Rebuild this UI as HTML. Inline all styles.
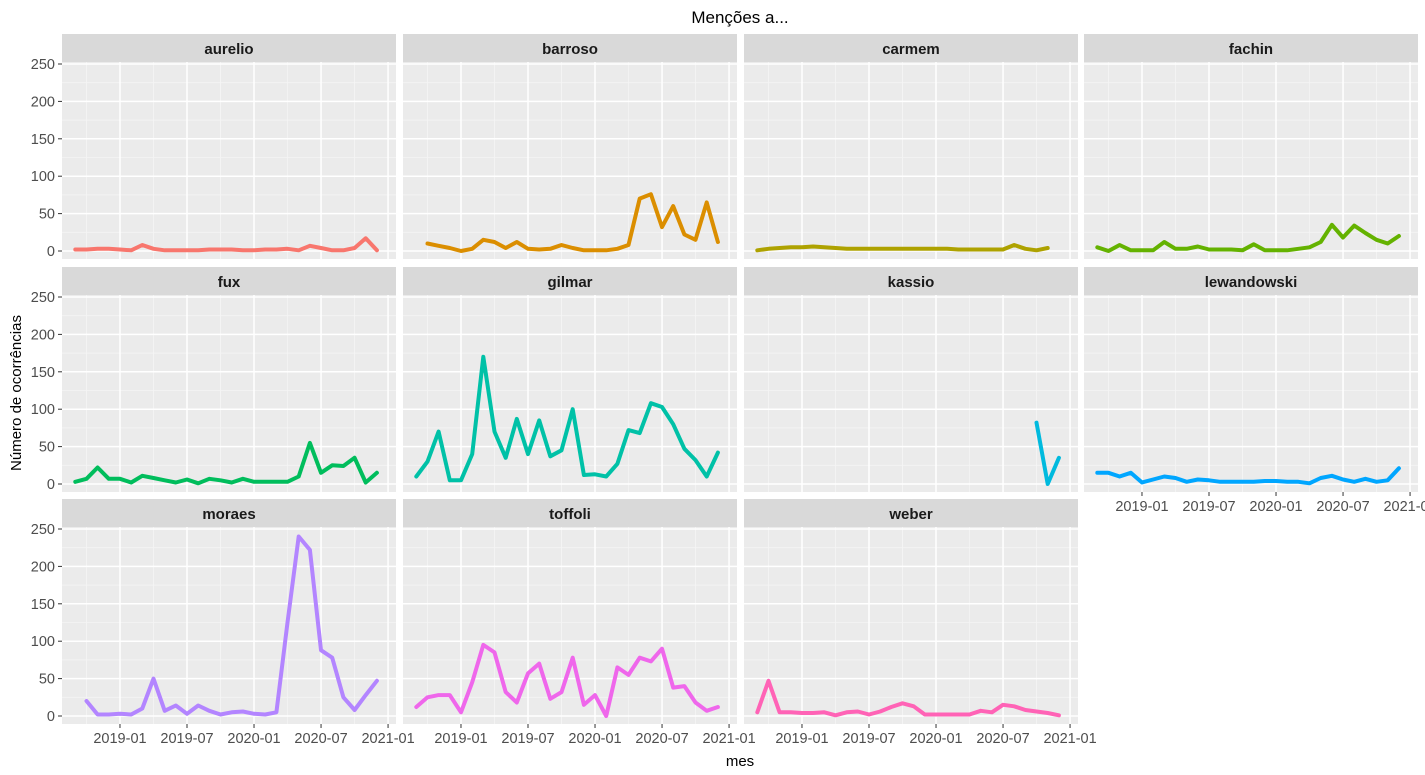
<!DOCTYPE html>
<html><head><meta charset="utf-8"><style>
html,body{margin:0;padding:0;background:#fff;}
svg{display:block;font-family:"Liberation Sans",sans-serif;}
</style></head><body>
<svg id="chart" width="1425" height="775" viewBox="0 0 1425 775"></svg>
<script>
const names = ["aurelio","barroso","carmem","fachin","fux","gilmar","kassio","lewandowski","moraes","toffoli","weber"];
const colors = ["#F8766D","#DB8E00","#AEA200","#64B200","#00BD5C","#00C1A7","#00BADE","#00A6FF","#B385FF","#EF67EB","#FF63B6"];
// month index 0 = 2018-09
const startIdx = [0,1,0,0,0,0,25,0,1,0,0];
const aurelio = [2,2,3,3,2,1,8,3,1,1,1,1,2,2,2,1,1,2,2,3,1,7,4,1,1,4,17,1];
const barroso = [10,7,4,0,3,15,12,4,12,3,2,3,8,4,1,1,1,3,8,70,76,32,60,22,15,65,12];
const carmem = [1,3,4,5,5,6,5,4,3,3,3,3,3,3,3,3,3,3,2,2,2,2,2,8,3,1,4];
const fachin = [5,0,8,1,1,1,12,3,3,6,2,2,2,1,9,1,1,1,3,5,12,35,18,34,24,15,10,20];
const fux = [3,7,22,7,7,2,11,8,5,2,6,1,7,5,2,7,3,3,3,3,10,55,15,25,24,35,2,15];
const gilmar = [10,30,70,5,5,40,170,70,35,87,40,85,37,45,100,12,13,10,27,72,68,108,103,80,47,32,10,42];
const kassio = [82,0,35];
const lewandowski = [15,15,10,15,2,6,10,8,3,6,5,3,3,3,3,4,4,3,3,1,8,11,6,3,7,3,5,21];
const moraes = [20,2,2,3,2,10,50,7,14,3,14,7,2,5,6,3,2,5,125,240,222,88,78,25,8,28,47];
const toffoli = [12,25,28,28,5,45,95,85,32,18,57,70,23,32,78,15,28,0,65,55,78,73,90,38,40,18,7,12];
const weber = [5,47,5,5,4,4,5,1,5,6,2,6,12,17,13,2,2,2,2,2,7,5,15,13,8,6,4,1];
const series = [aurelio,barroso,carmem,fachin,fux,gilmar,kassio,lewandowski,moraes,toffoli,weber];
const yTicks = [0,50,100,150,200,250];
const xTickIdx = [4,10,16,22,28];
const xTickLabels = ["2019-01","2019-07","2020-01","2020-07","2021-01"];

const NS="http://www.w3.org/2000/svg";
const svg=document.getElementById('chart');
function el(tag,attrs,parent){const e=document.createElementNS(NS,tag);for(const k in attrs)e.setAttribute(k,attrs[k]);(parent||svg).appendChild(e);return e;}
const colX=[62,403,744,1084], panelW=334;
const rowStrip=[34,267,499], rowTop=[62,295,527], panelH=197;
function xScale(i,c){return colX[c]+13.3+i*11.17;}
function yScale(v,r){return rowTop[r]+189-v*0.748;}

function txt(x,y,s,attrs){const t=el('text',Object.assign({x:x,y:y},attrs));t.textContent=s;return t;}

const title=txt(740,23,"Menções a...",{'text-anchor':'middle','font-size':'17','fill':'#000'});



names.forEach((nm,k)=>{
  const r=Math.floor(k/4), c=k%4;
  const g=el('g',{});
  
  
  const strip=el('rect',{x:colX[c],y:rowStrip[r],width:panelW,height:28,fill:'#d9d9d9'},g);
  
  
  const st=txt(colX[c]+panelW/2,rowStrip[r]+20,nm,{'text-anchor':'middle','font-size':'15','font-weight':'bold','fill':'#1a1a1a'});
  g.appendChild(st);
  el('rect',{x:colX[c],y:rowTop[r],width:panelW,height:panelH,fill:'#ebebeb'},g);
  // minor grid
  for(let v=25;v<=275;v+=50){const y=yScale(v,r);if(y>rowTop[r])el('line',{x1:colX[c],x2:colX[c]+panelW,y1:y,y2:y,stroke:'#f5f5f5','stroke-width':0.8},g);}
  for(let i=1;i<=31;i+=6){const x=xScale(i,c);if(x<colX[c]+panelW)el('line',{x1:x,x2:x,y1:rowTop[r],y2:rowTop[r]+panelH,stroke:'#f5f5f5','stroke-width':0.8},g);}
  yTicks.forEach(v=>{const y=yScale(v,r);el('line',{x1:colX[c],x2:colX[c]+panelW,y1:y,y2:y,stroke:'#fff','stroke-width':1.5},g);});
  xTickIdx.forEach(i=>{const x=xScale(i,c);el('line',{x1:x,x2:x,y1:rowTop[r],y2:rowTop[r]+panelH,stroke:'#fff','stroke-width':1.5},g);});
  const d=series[k].map((v,j)=>(j?'L':'M')+xScale(startIdx[k]+j,c).toFixed(1)+','+yScale(v,r).toFixed(1)).join('');
  const p=el('path',{d:d,fill:'none',stroke:colors[k],'stroke-width':4,'stroke-linejoin':'round','stroke-linecap':'round'},g);
  
  
  if(c===0){yTicks.forEach(v=>{const y=yScale(v,r);el('line',{x1:colX[0]-4,x2:colX[0],y1:y,y2:y,stroke:'#333','stroke-width':1},g);txt(colX[0]-7,y+5,String(v),{'text-anchor':'end','font-size':'14.5','fill':'#4d4d4d'});});}
  const showX = r===2 || k===7;
  if(showX){const yb=rowTop[r]+panelH;xTickIdx.forEach((i,j)=>{const x=xScale(i,c);el('line',{x1:x,x2:x,y1:yb,y2:yb+4,stroke:'#333','stroke-width':1},g);txt(x,yb+19,xTickLabels[j],{'text-anchor':'middle','font-size':'14.5','fill':'#4d4d4d'});});}
});
const yt=txt(0,0,"Número de ocorrências",{'text-anchor':'middle','font-size':'15','fill':'#000',transform:'translate(21,393) rotate(-90)'});


const xt=txt(740,766,"mes",{'text-anchor':'middle','font-size':'15','fill':'#000'});


</script>
</body></html>
